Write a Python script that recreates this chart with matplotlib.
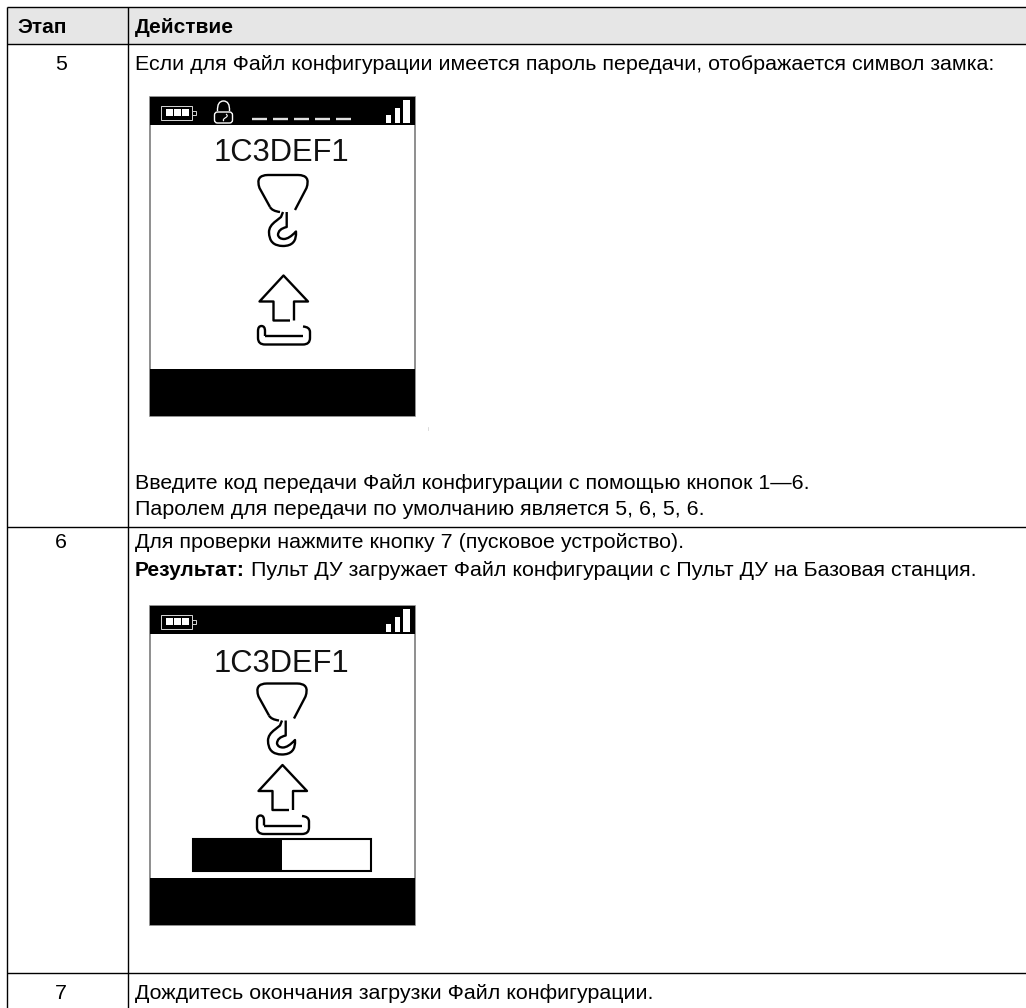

import matplotlib
matplotlib.use("Agg")
import matplotlib.pyplot as plt
from matplotlib.patches import Rectangle, FancyBboxPatch, PathPatch
from matplotlib.path import Path

plt.rcParams['font.family'] = ['Liberation Sans', 'DejaVu Sans']

# table content
header = ["Этап", "Действие"]
steps = ["5", "6", "7"]
row5_top = "Если для Файл конфигурации имеется пароль передачи, отображается символ замка:"
row5_bottom = ["Введите код передачи Файл конфигурации с помощью кнопок 1—6.",
               "Паролем для передачи по умолчанию является 5, 6, 5, 6."]
row6_top = "Для проверки нажмите кнопку 7 (пусковое устройство)."
result_label = "Результат:"
result_text = " Пульт ДУ загружает Файл конфигурации с Пульт ДУ на Базовая станция."
row7_text = "Дождитесь окончания загрузки Файл конфигурации."
screen_code = "1C3DEF1"
battery_cells = [0, 1, 2]
signal_bars = [8, 15, 23]
pin_dashes = [0, 1, 2, 3, 4]

FS = 15.4
FS_BOLD = 15.0
M, L, C = Path.MOVETO, Path.LINETO, Path.CURVE3
TAB_L, TAB_C, TAB_R = 7, 127.5, 1026
TAB_T, HEAD_B, ROW5_B, ROW6_B = 7, 44, 527, 973


def stroke(ax, verts, codes, dx, dy, lw=1.7, ec='black'):
    verts = [(x + dx, y + dy) for x, y in verts]
    ax.add_patch(PathPatch(Path(verts, codes), fill=False, lw=lw, ec=ec,
                           capstyle='butt', joinstyle='round'))


def hook_icon(ax, dx, dy):
    # bell of the hook, open at the bottom
    stroke(ax, [(270, 207), (259.5, 188), (255, 175), (268, 175), (298, 175),
                (311, 175), (306.5, 188), (295, 210)],
           [M, L, C, C, L, C, C, L], dx, dy)
    stroke(ax, [(270, 207), (272, 211), (280, 212)], [M, C, C], dx, dy)
    # shank and the hook itself
    stroke(ax, [(286.7, 212), (286.7, 227), (278, 229), (278, 235), (279, 239), (284, 239),
                (289, 239), (296, 231.5), (297, 246), (283, 246), (269, 246), (269, 232),
                (269, 226), (276, 221), (281, 217), (283, 212)],
           [M, L, C, C, C, C, C, C, C, C, C, C, C, C, L, L], dx, dy)


def upload_icon(ax, dx, dy):
    stroke(ax, [(290, 320.5), (273.5, 320.5), (273.5, 301.5), (259.5, 301.5), (283.5, 275.5),
                (308, 301.5), (294, 301.5), (294, 320.5)], [M, L, L, L, L, L, L, L], dx, dy)
    # tray under the arrow
    stroke(ax, [(265, 336), (265, 331), (265, 326), (261.5, 326), (258, 326), (258, 331), (258, 338),
                (258, 344.5), (265, 344.5), (303, 344.5), (310, 344.5), (310, 338), (310, 332),
                (310, 327), (303, 326.5)],
           [M, L, C, C, C, C, L, C, C, L, C, C, L, C, C], dx, dy)
    stroke(ax, [(265, 336), (303, 336)], [M, L], dx, dy)


def status_bar(ax, dy):
    # battery
    ax.add_patch(Rectangle((161, 105.8 + dy), 30.5, 14, fill=False, ec='#d8d8d8', lw=0.7))
    ax.add_patch(Rectangle((191.5, 110.5 + dy), 4, 4.8, fc='black', ec='#d8d8d8', lw=0.7))
    for i in battery_cells:
        ax.add_patch(Rectangle((166 + i * 8, 109 + dy), 6.5, 7, fc='white', ec='none'))
    # signal strength
    for i, h in enumerate(signal_bars):
        ax.add_patch(Rectangle((386 + i * 8.6, 122.5 + dy - h), 5 + 0.8 * i, h, fc='white', ec='none'))


def lock_and_pin(ax):
    ax.add_patch(FancyBboxPatch((214.5, 112), 18, 11, boxstyle="round,pad=0,rounding_size=3",
                                fc='black', ec='white', lw=1.0))
    stroke(ax, [(217.5, 111), (217, 101), (223.5, 101), (230, 101), (229.5, 111)], [M, C, C, C, C], 0, 0,
           lw=1.0, ec='white')
    stroke(ax, [(226, 114), (229, 116), (225, 118), (222, 120), (224, 121)], [M, C, C, C, C], 0, 0,
           lw=0.8, ec='white')
    for i in pin_dashes:
        ax.plot([252 + i * 21, 267 + i * 21], [119, 119], color='#e0e0e0', lw=1.7, solid_capstyle='butt')


def screen(ax, dy, text_y):
    ax.add_patch(Rectangle((149.5, 97 + dy), 265.5, 319, fc='white', ec='#707070', lw=1.1))
    ax.add_patch(Rectangle((149.5, 97 + dy), 265.5, 28, fc='black', ec='none'))
    ax.add_patch(Rectangle((149.5, 369 + dy), 265.5, 47, fc='black', ec='none'))
    status_bar(ax, dy)
    ax.text(281.5, text_y, screen_code, fontsize=22.2, ha='center', va='baseline', color='#111111')


fig = plt.figure(figsize=(10.26, 10.08), dpi=100)
ax = fig.add_axes([0, 0, 1, 1])
ax.set_xlim(0, 1026)
ax.set_ylim(1008, 0)
ax.axis('off')

# table frame
ax.add_patch(Rectangle((TAB_L, TAB_T), TAB_R - TAB_L, HEAD_B - TAB_T, fc='#e6e6e6', ec='none'))
for y in [TAB_T, HEAD_B, ROW5_B, ROW6_B]:
    ax.plot([TAB_L, TAB_R], [y, y], color='black', lw=1.0, solid_capstyle='butt')
for x in [TAB_L, TAB_C]:
    ax.plot([x, x], [TAB_T, 1008], color='black', lw=1.0, solid_capstyle='butt')

# table text
ax.text(17, 33, header[0], fontsize=FS_BOLD, fontweight='bold', va='baseline')
ax.text(135, 33, header[1], fontsize=FS_BOLD, fontweight='bold', va='baseline')
for s, y in zip(steps, [70, 548, 999]):
    ax.text(61, y, s, fontsize=FS, ha='center', va='baseline')
ax.text(135, 70, row5_top, fontsize=FS, va='baseline')
ax.text(135, 489, row5_bottom[0], fontsize=FS, va='baseline')
ax.text(135, 515, row5_bottom[1], fontsize=FS, va='baseline')
ax.text(135, 548, row6_top, fontsize=FS, va='baseline')
lab = ax.text(135, 576, result_label, fontsize=FS_BOLD, fontweight='bold', va='baseline')
fig.canvas.draw()
lab_right = ax.transData.inverted().transform(lab.get_window_extent().corners()[-1])[0]
ax.text(lab_right, 576, result_text, fontsize=FS, va='baseline')
ax.text(135, 999, row7_text, fontsize=FS, va='baseline')

# first screen, with lock and pin dashes
screen(ax, 0, 161)
lock_and_pin(ax)
hook_icon(ax, 0, 0)
upload_icon(ax, 0, 0)
ax.plot([428, 428], [427, 430], color='#cccccc', lw=0.5)

# second screen, with progress bar
screen(ax, 509, 672)
hook_icon(ax, -1, 508.5)
upload_icon(ax, -1, 489.5)
ax.add_patch(Rectangle((193, 839), 178, 32, fc='white', ec='black', lw=1.5))
ax.add_patch(Rectangle((193, 839), 89, 32, fc='black', ec='none'))

fig.savefig('out.png', dpi=100)
